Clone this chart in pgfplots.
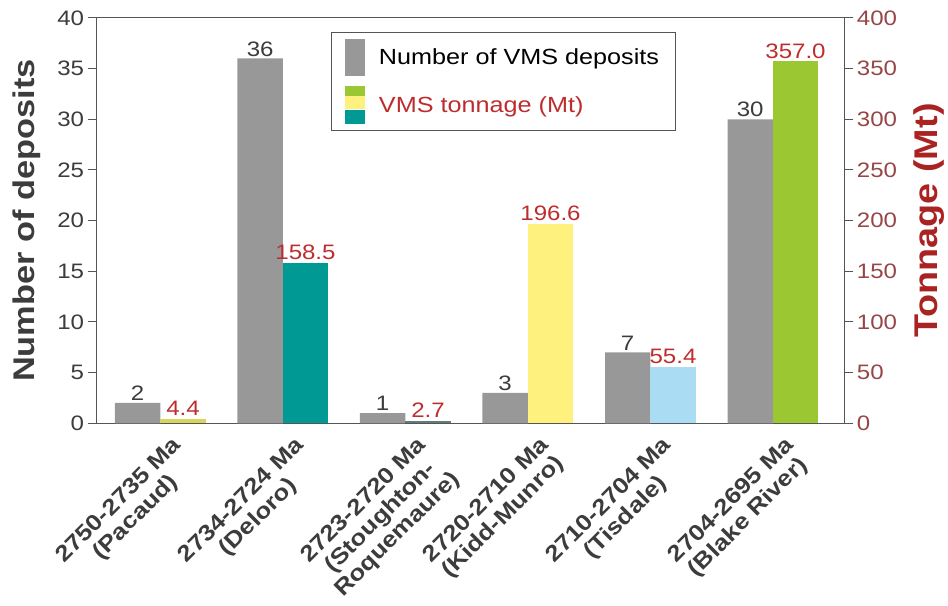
\documentclass[border=0pt]{standalone}
\usepackage{fontspec}
\setmainfont{Liberation Sans}[FakeStretch=1.15]
\usepackage{pgfplots}
\pgfplotsset{compat=1.18}
\definecolor{bargray}{RGB}{152,152,152}
\definecolor{vteal}{RGB}{0,153,148}
\definecolor{vyellow}{RGB}{255,241,125}
\definecolor{volive}{RGB}{215,212,95}
\definecolor{vblue}{RGB}{170,220,243}
\definecolor{vgreen}{RGB}{155,200,50}
\definecolor{vdark}{RGB}{95,125,120}
\definecolor{labred}{RGB}{190,45,45}
\definecolor{tickred}{RGB}{150,70,70}
\definecolor{titlered}{RGB}{170,35,35}
\definecolor{axgray}{RGB}{85,85,85}
\definecolor{txtgray}{RGB}{60,60,60}
\begin{document}
\begin{tikzpicture}
\pgfplotsset{
  common/.style={
    scale only axis, width=751pt, height=407pt,
    xmin=-0.52, xmax=5.585,
    ybar, bar width=0.37,
    axis line style={axgray, line width=1pt},
    tick style={axgray, line width=1pt},
    major tick length=9pt,
    tick align=outside,
    /pgf/number format/assume math mode=true,
    ticklabel style={font=\fontsize{21}{24}\selectfont},
  },
}
\begin{axis}[common,
  ymin=0, ymax=40, ytick={0,5,...,40},
  ytick pos=left,
  yticklabel style={color=txtgray},
  xtick={0,1,2,3,4,5},
  xticklabels={{2750-2735 Ma\\(Pacaud)},{2734-2724 Ma\\(Deloro)},{2723-2720 Ma\\(Stoughton-\\Roquemaure)},{2720-2710 Ma\\(Kidd-Munro)},{2710-2704 Ma\\(Tisdale)},{2704-2695 Ma\\(Blake River)}},
  xticklabel style={rotate=45, anchor=north east, align=center, font=\fontsize{22.5}{24}\selectfont\bfseries, color=txtgray, xshift=9pt, yshift=-6pt},
  x tick style={draw=none},
  ylabel={\bfseries Number of deposits},
  ylabel shift=10pt,
  ylabel style={font=\fontsize{30}{32}\selectfont, color=txtgray},
  legend style={at={(0.313,0.966)}, anchor=north west, draw=axgray, line width=1pt,
    font=\fontsize{22}{24}\selectfont, inner xsep=14pt, inner ysep=7pt, row sep=10pt,
    /tikz/every odd column/.append style={column sep=12pt}},
  legend cell align=left,
  nodes near coords, nodes near coords style={font=\fontsize{21}{24}\selectfont, color=txtgray, anchor=south, inner sep=2pt},
  point meta=explicit,
]
\addplot[fill=bargray, draw=none, bar shift=0pt, forget plot] coordinates {(-0.185,2)[2] (0.815,36)[36] (1.815,1)[1] (2.815,3)[3] (3.815,7)[7] (4.815,30)[30]};
\addlegendimage{legend image code/.code={
  \fill[bargray] (0pt,-18pt) rectangle (19pt,18pt);}}
\addlegendentry{Number of VMS deposits}
\addlegendimage{legend image code/.code={
  \fill[vgreen] (0pt,9pt) rectangle (19pt,19pt);
  \fill[vyellow] (0pt,-3pt) rectangle (19pt,9pt);
  \fill[vteal] (0pt,-18pt) rectangle (19pt,-5pt);}}
\addlegendentry{\textcolor{labred}{VMS tonnage (Mt)}}
\end{axis}
\begin{axis}[common,
  ymin=0, ymax=400, ytick={0,50,...,400},
  axis y line*=right, axis x line=none,
  yticklabel style={color=tickred},
  ylabel={\bfseries Tonnage (Mt)},
  ylabel shift=10pt,
  ylabel style={font=\fontsize{33}{35}\selectfont, color=titlered},
  nodes near coords, nodes near coords style={font=\fontsize{21}{24}\selectfont, color=labred, anchor=south, inner sep=3pt},
  nodes near coords={\pgfmathprintnumber[fixed, fixed zerofill, precision=1]{\pgfplotspointmeta}},
  point meta=y,
]
\addplot[fill=volive, draw=none, bar shift=0pt] coordinates {(0.185,4.4)};
\addplot[fill=vteal, draw=none, bar shift=0pt] coordinates {(1.185,158.5)};
\addplot[fill=vdark, draw=none, bar shift=0pt] coordinates {(2.185,2.7)};
\addplot[fill=vyellow, draw=none, bar shift=0pt] coordinates {(3.185,196.6)};
\addplot[fill=vblue, draw=none, bar shift=0pt] coordinates {(4.185,55.4)};
\addplot[fill=vgreen, draw=none, bar shift=0pt] coordinates {(5.185,357.0)};
\end{axis}
\path[use as bounding box] (-97pt,-175pt) rectangle (851pt,425pt);
\end{tikzpicture}
\end{document}
